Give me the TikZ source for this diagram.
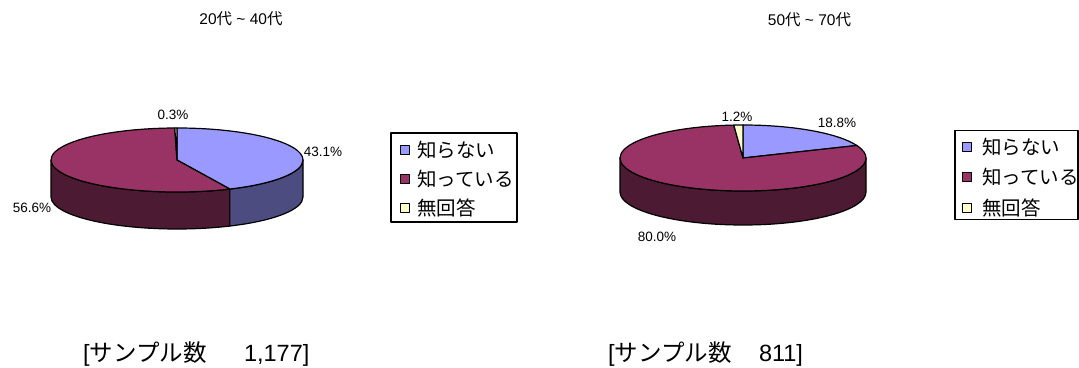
\documentclass[tikz,border=0pt]{standalone}
\usepackage{fontspec}
\setmainfont{Liberation Sans}
\newfontfamily\jp{Noto Sans CJK JP}
\usetikzlibrary{positioning}

\definecolor{knownot}{HTML}{9999FF}
\definecolor{knownotside}{HTML}{4C4C80}
\definecolor{know}{HTML}{993366}
\definecolor{knowside}{HTML}{4D1A33}
\definecolor{noans}{HTML}{FFFFCC}

\begin{document}
\begin{tikzpicture}[x=1pt, y=1pt, line join=round,
    slice/.style={draw=black, line width=1.2pt},
    pct/.style={font=\fontsize{13.5}{13.5}\selectfont, inner sep=0pt},
    title/.style={font=\fontsize{15.5}{15.5}\selectfont, inner sep=0pt},
    legendbox/.style={rectangle, draw, line width=1.2pt, minimum width=#1, minimum height=89},
    marker/.style={rectangle, draw, line width=0.9pt, minimum size=8.5, inner sep=0pt},
    entry/.style={anchor=west, font=\jp\fontsize{19.5}{19.5}\selectfont, inner sep=0pt},
    caption/.style={anchor=west, font=\fontsize{23.5}{23.5}\selectfont, inner sep=0pt}]
\useasboundingbox (0,0) rectangle (1079,367);

%% Left pie (20-40)
\begin{scope}[shift={(177,207)}]
  % side
  \draw[slice, fill=knowside] (180:126 and 32) arc[start angle=180, end angle=294.8, x radius=126, y radius=32]
    -- ++(0,-37) arc[start angle=294.8, end angle=180, x radius=126, y radius=32] -- cycle;
  \draw[slice, fill=knownotside] (294.8:126 and 32) arc[start angle=294.8, end angle=360, x radius=126, y radius=32]
    -- ++(0,-37) arc[start angle=360, end angle=294.8, x radius=126, y radius=32] -- cycle;
  % top
  \draw[slice, fill=knownot] (0,0) -- (90:126 and 32) arc[start angle=90, end angle=-65.2, x radius=126, y radius=32] -- cycle;
  \draw[slice, fill=know] (0,0) -- (-65.2:126 and 32) arc[start angle=-65.2, end angle=-269, x radius=126, y radius=32] -- cycle;
  \draw[slice, fill=noans] (0,0) -- (91:126 and 32) arc[start angle=91, end angle=90, x radius=126, y radius=32] -- cycle;
\end{scope}
\node[pct] (l_noans) at (173,252) {0.3\%};
\node[pct] (l_knownot) at (323,215) {43.1\%};
\node[pct] (l_know) at (32,159) {56.6\%};
\node[title] (l_title) at (241,348) {20{\jp 代} \textasciitilde{} 40{\jp 代}};

%% Right pie (50-70)
\begin{scope}[shift={(743,209)}]
  % side
  \draw[slice, fill=knowside] (180:123 and 33) arc[start angle=180, end angle=360, x radius=123, y radius=33]
    -- ++(0,-34) arc[start angle=360, end angle=180, x radius=123, y radius=33] -- cycle;
  % top
  \draw[slice, fill=knownot] (0,0) -- (90:123 and 33) arc[start angle=90, end angle=22.3, x radius=123, y radius=33] -- cycle;
  \draw[slice, fill=know] (0,0) -- (22.3:123 and 33) arc[start angle=22.3, end angle=-265.7, x radius=123, y radius=33] -- cycle;
  \draw[slice, fill=noans] (0,0) -- (94.3:123 and 33) arc[start angle=94.3, end angle=90, x radius=123, y radius=33] -- cycle;
\end{scope}
\node[pct] (r_noans) at (737,250) {1.2\%};
\node[pct] (r_knownot) at (837,244) {18.8\%};
\node[pct] (r_know) at (657,130) {80.0\%};
\node[title] (r_title) at (809.5,347) {50{\jp 代} \textasciitilde{} 70{\jp 代}};

%% Legends
\node[legendbox=126] (l_legend) at (454,189.5) {};
\node[marker, fill=knownot] (lm1) at (405,217) {};
\node[marker, fill=know] (lm2) at (405,188) {};
\node[marker, fill=noans] (lm3) at (405,159) {};
\node[entry] (lt1) at (417,217) {知らない};
\node[entry] (lt2) at (417,188) {知っている};
\node[entry] (lt3) at (417,159) {無回答};

\node[legendbox=123] (r_legend) at (1016.5,192) {};
\node[marker, fill=knownot] (rm1) at (967,220) {};
\node[marker, fill=know] (rm2) at (967,190) {};
\node[marker, fill=noans] (rm3) at (967,159) {};
\node[entry] (rt1) at (982,220) {知らない};
\node[entry] (rt2) at (982,190) {知っている};
\node[entry] (rt3) at (982,159) {無回答};

%% Sample sizes
\node[caption] (l_n) at (83,13) {[{\jp サンプル数　}\hspace{14pt}1,177]};
\node[caption] (r_n) at (608,13) {[{\jp サンプル数　}\hspace{4pt}811]};
\end{tikzpicture}
\end{document}
